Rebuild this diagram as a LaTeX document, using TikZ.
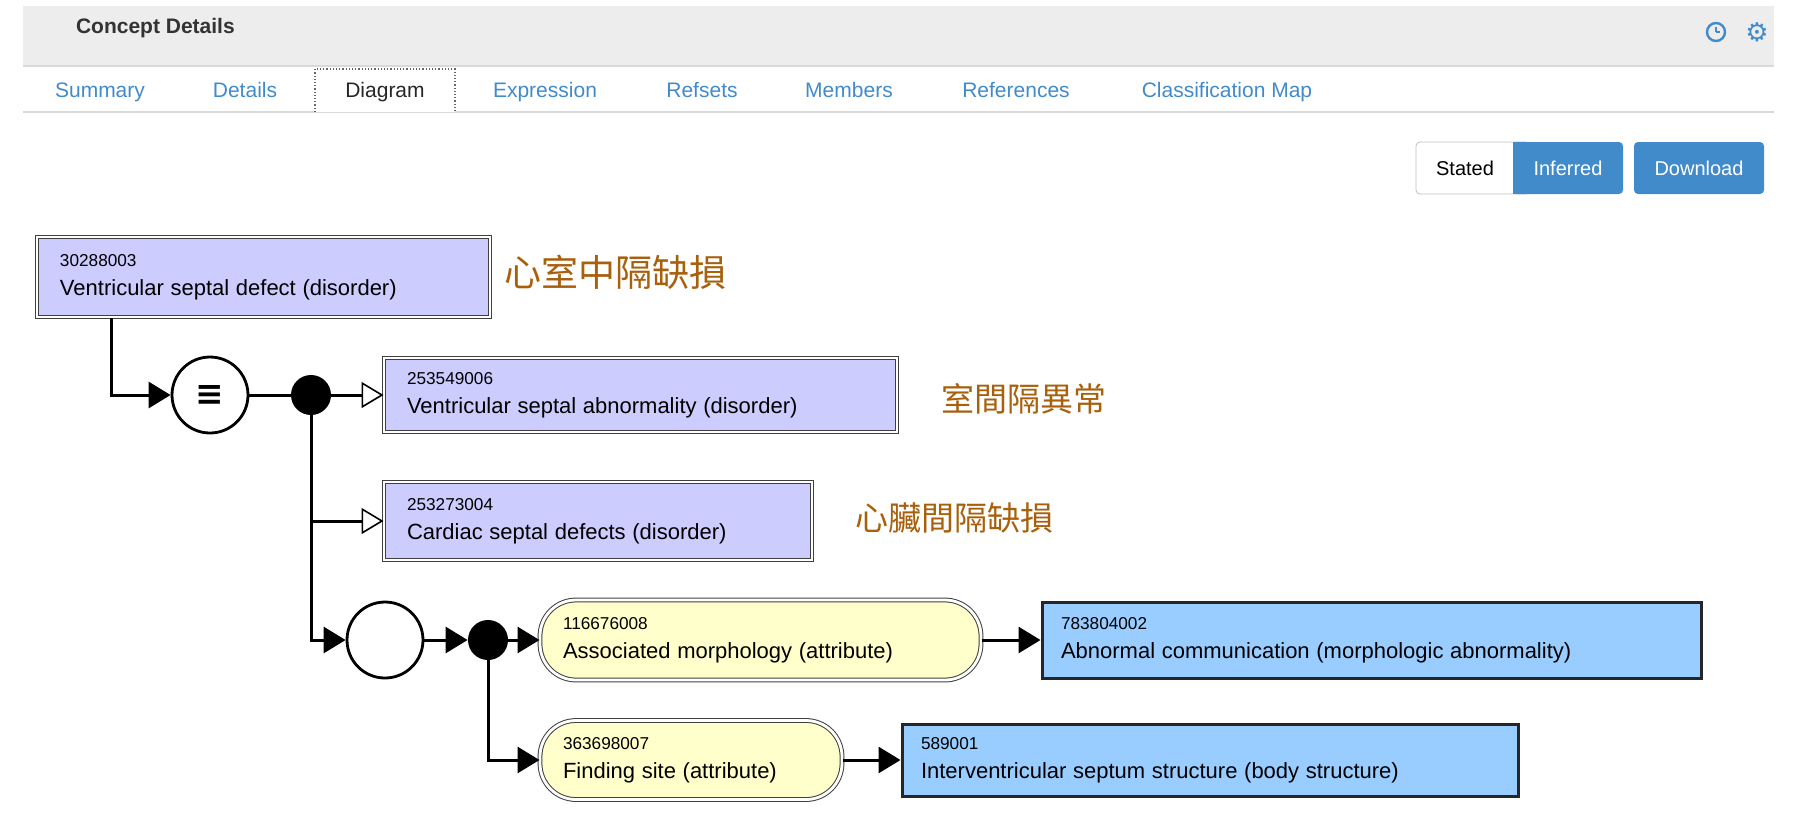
\documentclass[tikz,border=0pt]{standalone}
\usepackage{fontspec}
\setmainfont{Liberation Sans}
\newfontfamily\cjk{Noto Sans CJK TC}
\newfontfamily\dejavu{DejaVu Sans}
\usetikzlibrary{arrows.meta}
\definecolor{hdr}{HTML}{EDEDED}
\definecolor{tabblue}{HTML}{428BCA}
\definecolor{lav}{HTML}{CCCCFF}
\definecolor{ylw}{HTML}{FFFFCC}
\definecolor{valblue}{HTML}{99CCFF}
\definecolor{cjkc}{HTML}{A8600C}
\begin{document}
\begin{tikzpicture}[x=0.5pt,y=-0.5pt,
  concept/.style={draw=black!75,line width=0.5pt,double=white,double distance=1.4pt,fill=lav,inner sep=0pt,align=left,anchor=center},
  attr/.style={draw=black!75,line width=0.5pt,double=white,double distance=1.4pt,fill=ylw,rounded corners=18pt,inner sep=0pt,align=left},
  val/.style={draw=black!85,line width=1.5pt,fill=valblue,inner sep=0pt,align=left},
  lbl/.style={font=\cjk\fontsize{16.5}{20}\selectfont,text=cjkc,anchor=west},
  tab/.style={font=\fontsize{10.5}{12}\selectfont,text=tabblue,anchor=base},
  conn/.style={line width=1.5pt},
  fa/.style={-{Triangle[length=11pt,width=13pt]}},
  oa/.style={-{Triangle[open,length=11pt,width=13pt,fill=white,line width=0.8pt]}},
  big/.style={circle,draw,line width=1.4pt,minimum size=76*0.5pt,inner sep=0pt},
  dot/.style={circle,fill=black,minimum size=40*0.5pt,inner sep=0pt}]
\newcommand{\twol}[2]{{\fontsize{8.6}{11}\selectfont #1}\\[2.5pt]{\fontsize{11}{13}\selectfont #2}}
\useasboundingbox (0,0) rectangle (1806,816);
\fill[white] (0,0) rectangle (1806,816);
% header
\fill[hdr] (23,6) rectangle (1774,66);
\draw[black!15,line width=0.8pt] (23,66) -- (1774,66);
\node[anchor=west,font=\bfseries\fontsize{10.5}{12}\selectfont,text=black!80] (title) at (69,28) {Concept Details};
\node[circle,draw=tabblue,line width=1.2pt,minimum size=18*0.5pt,inner sep=0pt] (clock) at (1716,32) {};
\draw[tabblue,line width=1pt] (clock.center) -- ++(0,-5) (clock.center) -- ++(4,0);
\node[text=tabblue,font=\dejavu\fontsize{13}{13}\selectfont] (gear) at (1757,32) {⚙};
% tabs
\draw[black!15,line width=1pt] (23,112) -- (1774,112);
\draw[black!60,densely dotted,line width=0.6pt,fill=white] (315,112) -- (315,69) -- (455,69) -- (455,112);
\node[tab] (t1) at (100,97) {Summary};
\node[tab] (t2) at (245,97) {Details};
\node[tab,text=black!85] (t3) at (385,97) {Diagram};
\node[tab] (t4) at (545,97) {Expression};
\node[tab] (t5) at (702,97) {Refsets};
\node[tab] (t6) at (849,97) {Members};
\node[tab] (t7) at (1016,97) {References};
\node[tab] (t8) at (1227,97) {Classification Map};
% buttons
\draw[black!25,rounded corners=2pt,fill=white] (1416,142) rectangle (1530,194);
\fill[tabblue,rounded corners=2pt] (1513,142) rectangle (1623,194);
\fill[tabblue] (1513,142) rectangle (1520,194);
\fill[tabblue,rounded corners=2pt] (1634,142) rectangle (1764,194);
\node[font=\fontsize{10}{12}\selectfont] (bs) at (1465,168) {Stated};
\node[font=\fontsize{10}{12}\selectfont,text=white] (bi) at (1568,168) {Inferred};
\node[font=\fontsize{10}{12}\selectfont,text=white] (bd) at (1699,168) {Download};
% concepts
\node[concept,minimum width=453*0.5pt,minimum height=80*0.5pt,text width=407*0.5pt] (box1) at (263.5,277)
  {\twol{30288003}{Ventricular septal defect (disorder)}};
\node[lbl,font=\cjk\fontsize{18.5}{20}\selectfont] (l1) at (497,272) {心室中隔缺損};
\node[concept,minimum width=513*0.5pt,minimum height=74*0.5pt,text width=467*0.5pt] (box2) at (640.5,395)
  {\twol{253549006}{Ventricular septal abnormality (disorder)}};
\node[lbl] (l2) at (934,399) {室間隔異常};
\node[concept,minimum width=428*0.5pt,minimum height=78*0.5pt,text width=382*0.5pt] (box3) at (598,521)
  {\twol{253273004}{Cardiac septal defects (disorder)}};
\node[lbl] (l3) at (848,518) {心臟間隔缺損};
% operators
\node[big] (eq) at (210,395) {\dejavu\bfseries\fontsize{17}{17}\selectfont ≡};
\node[dot] (d1) at (311,395) {};
\node[big] (c2) at (385,640) {};
\node[dot] (d2) at (488,640) {};
% attributes
\node[attr,minimum width=441*0.5pt,minimum height=80*0.5pt,text width=395*0.5pt] (a1) at (760.5,640)
  {\twol{116676008}{Associated morphology (attribute)}};
\node[val,minimum width=659*0.5pt,minimum height=76*0.5pt,text width=621*0.5pt] (v1) at (1371.5,640)
  {\twol{783804002}{Abnormal communication (morphologic abnormality)}};
\node[attr,minimum width=302*0.5pt,minimum height=79*0.5pt,text width=256*0.5pt] (a2) at (691,760)
  {\twol{363698007}{Finding site (attribute)}};
\node[val,minimum width=616*0.5pt,minimum height=72*0.5pt,text width=578*0.5pt] (v2) at (1210,760)
  {\twol{589001}{Interventricular septum structure (body structure)}};
% connectors
\draw[conn,fa] (box1.south west) ++(75,0) |- (eq.west);
\draw[conn] (eq.east) -- (d1.west);
\draw[conn,oa] (d1.east) -- (box2.west);
\draw[conn,oa] (d1.center) |- (box3.west);
\draw[conn,fa] (d1.center) |- (c2.west);
\draw[conn,fa] (c2.east) -- (d2.west);
\draw[conn,fa] (d2.east) -- (a1.west);
\draw[conn,fa] (d2.center) |- (a2.west);
\draw[conn,fa] (a1.east) -- (v1.west);
\draw[conn,fa] (a2.east) -- (v2.west);
\end{tikzpicture}
\end{document}
